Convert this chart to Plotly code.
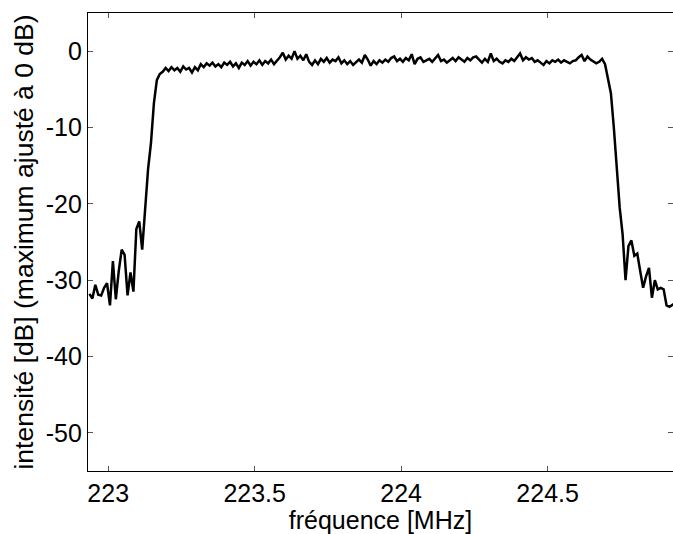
import plotly.graph_objects as go

# frequency grid (MHz): 201 samples, 10 kHz apart, starting at 222.936 MHz
f_start = 222.936
f_step = 0.01
freq = [round(f_start + f_step * k, 3) for k in range(201)]

# intensity (dB, maximum set to 0 dB)
floor_left = [-31.8, -32.4, -30.6, -31.9, -32.0, -31.0, -30.4, -33.3, -27.5, -32.5,
              -28.8, -26.0, -26.7, -32.0, -29.0, -31.5, -23.3, -22.3, -26.0, -20.6]
rise = [-15.5, -12.0, -6.8, -3.8, -3.0, -2.7]
passband = [
    -2.2, -2.6, -2.1, -2.5, -2.2, -2.7, -2.0, -2.4, -2.2, -2.8, -2.1, -2.5,
    -1.7, -2.1, -1.6, -1.9, -1.5, -2.0, -1.7, -2.1, -1.5, -1.8, -1.4, -2.0,
    -1.6, -2.2, -1.5, -1.8, -1.3, -1.9, -1.4, -1.7, -1.2, -1.8, -1.3, -1.6,
    -1.1, -1.7, -1.3, -0.8, -0.2, -1.1, -0.6, -1.0, 0.0, -1.0, -0.6, -1.2,
    -0.4, -1.4, -1.8, -1.2, -1.7, -1.0, -1.4, -0.9, -1.5, -1.1, -1.3, -0.8,
    -1.6, -1.2, -1.7, -1.3, -1.8, -1.4, -1.1, -1.5, -0.5, -1.1, -1.9, -1.3,
    -1.7, -1.2, -1.5, -1.1, -1.4, -0.9, -0.7, -1.3, -1.0, -1.4, -0.9, -1.2,
    -0.4, -1.7, -1.0, -0.8, -1.4, -1.2, -1.0, -1.4, -0.9, -0.5, -1.3, -1.1,
    -1.5, -1.2, -0.9, -1.3, -0.8, -1.1, -1.4, -0.9, -1.2, -0.8, -0.7, -1.1,
    -1.5, -1.0, -1.4, -0.3, -1.3, -1.0, -1.4, -1.6, -1.2, -1.4, -1.0, -1.3,
    -0.8, -0.3, -1.2, -0.8, -1.1, -0.9, -1.4, -1.2, -1.5, -1.8, -1.3, -1.6,
    -1.2, -1.4, -1.1, -1.5, -1.2, -1.4, -1.6, -1.3, -1.2, -0.8, -0.5, -1.3,
    -0.7, -1.1, -1.4, -1.6, -1.4, -1.0, -1.7]
fall = [-3.7, -5.5, -10.0, -15.0, -20.5, -24.0]
floor_right = [-30.0, -25.5, -24.8, -26.8, -26.5, -28.8, -31.0, -29.5, -28.4, -32.3,
               -30.0, -31.2, -31.0, -31.2, -33.3, -33.5, -33.2, -33.0]
intensity = floor_left + rise + passband + fall + floor_right

x_ticks = [223, 223.5, 224, 224.5]
x_tick_text = ["223", "223.5", "224", "224.5"]
y_ticks = [0, -10, -20, -30, -40, -50]
y_tick_text = ["0", "-10", "-20", "-30", "-40", "-50"]

FONT = "Liberation Sans, Arial, Helvetica, sans-serif"

fig = go.Figure()
fig.add_trace(go.Scatter(x=freq[:len(intensity)], y=intensity, mode="lines",
                         line=dict(color="black", width=2.5), showlegend=False))
# empty trace to carry the right-hand tick axis
fig.add_trace(go.Scatter(x=[None], y=[None], yaxis="y2", showlegend=False, hoverinfo="skip"))

fig.update_layout(
    width=673, height=534,
    margin=dict(l=88, r=0, t=13, b=63),
    paper_bgcolor="white", plot_bgcolor="white",
    font=dict(family=FONT, size=25, color="black"),
    xaxis=dict(
        range=[222.931, 224.928],
        tickvals=x_ticks, ticktext=x_tick_text,
        ticks="inside", ticklen=5, tickwidth=1, tickcolor="#555",
        showline=True, linecolor="black", linewidth=1.3, mirror="ticks",
        showgrid=False, zeroline=False,
        title=dict(text="fréquence [MHz]", font=dict(size=25), standoff=4),
    ),
    yaxis=dict(
        range=[-55, 5],
        tickvals=y_ticks, ticktext=y_tick_text,
        ticks="inside", ticklen=5, tickwidth=1, tickcolor="#555",
        showline=True, linecolor="black", linewidth=1.3, mirror=False,
        showgrid=False, zeroline=False,
        title=dict(text="intensité [dB] (maximum ajusté à 0 dB)", font=dict(size=26.5), standoff=4),
    ),
    yaxis2=dict(
        overlaying="y", side="right", range=[-55, 5],
        tickvals=y_ticks, ticks="inside", ticklen=5, tickwidth=1, tickcolor="#555",
        showticklabels=False, showline=False, showgrid=False, zeroline=False,
    ),
)

fig.write_html("out.html")
